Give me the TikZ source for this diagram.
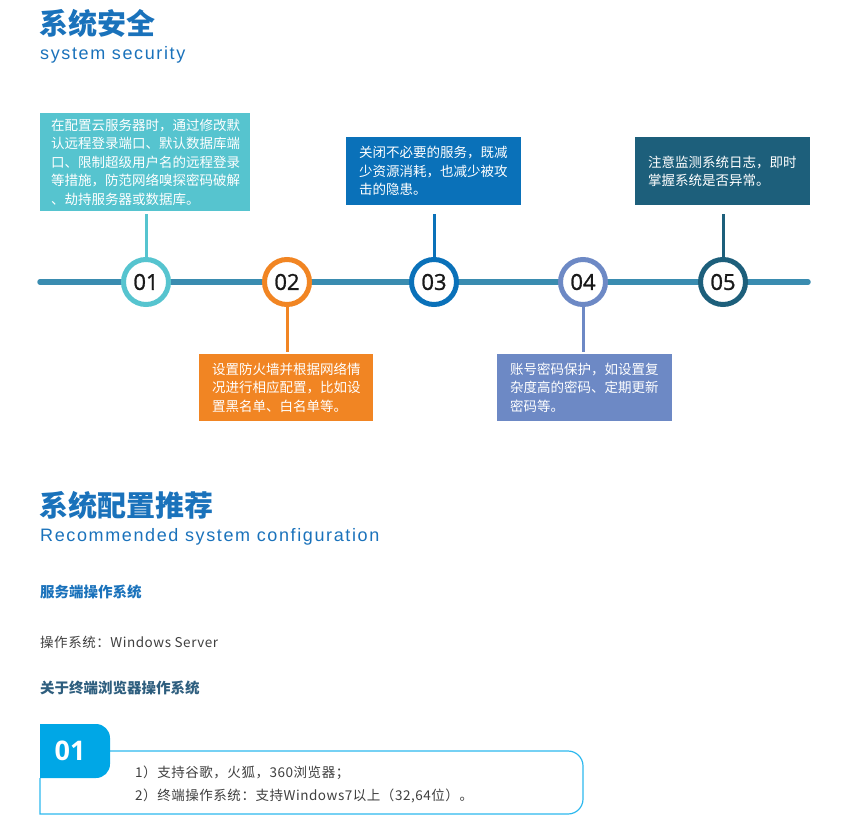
\documentclass[tikz,border=0pt]{standalone}
\usepackage{fontspec}
\setmainfont{Liberation Sans}
\newfontfamily\cjk{Noto Sans CJK SC}
\newfontfamily\cjkbody[LetterSpace=4]{Noto Sans CJK SC}
\newfontfamily\en[LetterSpace=9]{Liberation Sans}
\newfontfamily\num[FakeBold=1.2]{Open Sans}
\newfontfamily\numb{Open Sans}
\definecolor{ttl}{HTML}{1A72BB}
\definecolor{cteal}{HTML}{56C4CF}
\definecolor{corange}{HTML}{F18523}
\definecolor{cblue}{HTML}{0A71B9}
\definecolor{cperi}{HTML}{6D89C5}
\definecolor{cdark}{HTML}{1D5F7B}
\definecolor{tline}{HTML}{3A8CB0}
\definecolor{badge}{HTML}{00A7E6}
\definecolor{outl}{HTML}{2DB8EE}
\definecolor{subh}{HTML}{2E5E7E}
\definecolor{bodytxt}{HTML}{3F3F3F}
\tikzset{
  infobox/.style={rectangle, inner sep=0pt, anchor=north west, text=white, align=left,
    font=\cjk\fontsize{13.5}{18.5}\selectfont},
  stepcirc/.style={circle, draw=#1, fill=white, line width=5pt, minimum size=45pt, inner sep=0pt,
    font=\num\fontsize{22}{22}\selectfont, text=black!90},
  conn/.style={draw=#1, line width=3pt},
  bigtitle/.style={anchor=west, inner sep=0pt, text=ttl, font=\cjk\bfseries\fontsize{29}{29}\selectfont},
  subtitle/.style={anchor=west, inner sep=0pt, text=ttl, font=\en\fontsize{18}{18}\selectfont},
  heading/.style={anchor=west, inner sep=0pt, font=\cjk\bfseries\fontsize{14.5}{14.5}\selectfont},
  plain/.style={anchor=west, inner sep=0pt, text=bodytxt, font=\cjkbody\fontsize{13.5}{13.5}\selectfont}
}
\begin{document}
\begin{tikzpicture}[x=1pt,y=-1pt]
\useasboundingbox (0,0) rectangle (850,828);
% titles
\node[bigtitle] (t1) at (39,23) {系统安全};
\node[subtitle] (t1e) at (40,55) {system security};
% boxes
\node[infobox, fill=cteal, minimum width=210pt, minimum height=98pt, text width=188pt] (b1) at (40,113)
 {在配置云服务器时，通过修改默\\认远程登录端口、默认数据库端\\口、限制超级用户名的远程登录\\等措施，防范网络嗅探密码破解\\、劫持服务器或数据库。};
\node[infobox, fill=corange, minimum width=174pt, minimum height=67pt, text width=148pt] (b2) at (199,354)
 {设置防火墙并根据网络情\\况进行相应配置，比如设\\置黑名单、白名单等。};
\node[infobox, fill=cblue, minimum width=175pt, minimum height=68pt, text width=149pt] (b3) at (346,137)
 {关闭不必要的服务，既减\\少资源消耗，也减少被攻\\击的隐患。};
\node[infobox, fill=cperi, minimum width=175pt, minimum height=67pt, text width=149pt] (b4) at (497,354)
 {账号密码保护，如设置复\\杂度高的密码、定期更新\\密码等。};
\node[infobox, fill=cdark, minimum width=175pt, minimum height=68pt, text width=149pt] (b5) at (635,137)
 {注意监测系统日志，即时\\掌握系统是否异常。};
% timeline
\coordinate (tlA) at (40,282);
\coordinate (tlB) at (808,282);
\draw[tline, line width=5.5pt, line cap=round] (tlA) -- (tlB);
\coordinate (p1) at (146,282);
\coordinate (p2) at (287,282);
\coordinate (p3) at (434,282);
\coordinate (p4) at (583,282);
\coordinate (p5) at (723,282);
\draw[conn=cteal] (p1) -- ([yshift=-3pt]p1 |- b1.south);
\draw[conn=corange] (p2) -- ([yshift=2pt]p2 |- b2.north);
\draw[conn=cblue] (p3) -- ([yshift=-9pt]p3 |- b3.south);
\draw[conn=cperi] (p4) -- ([yshift=2pt]p4 |- b4.north);
\draw[conn=cdark] (p5) -- ([yshift=-9pt]p5 |- b5.south);
\node[stepcirc=cteal] (c1) at (p1) {01};
\node[stepcirc=corange] (c2) at (p2) {02};
\node[stepcirc=cblue] (c3) at (p3) {03};
\node[stepcirc=cperi] (c4) at (p4) {04};
\node[stepcirc=cdark] (c5) at (p5) {05};
% second section
\node[bigtitle] (t2) at (39,505) {系统配置推荐};
\node[subtitle] (t2e) at (40,537) {Recommended system configuration};
\node[heading, text=ttl] (h1) at (40,592) {服务端操作系统};
\node[plain] (os) at (40,642) {操作系统：Windows Server};
\node[heading, text=subh] (h2) at (40,688) {关于终端浏览器操作系统};
% bottom card
\draw[outl, line width=1.2pt] (40,778) -- (40,814) -- (568,814) arc[start angle=90, end angle=0, radius=15] -- (583,766)
  arc[start angle=0, end angle=-90, radius=15] -- (110,751);
\fill[badge] (40,724) -- (96,724) arc[start angle=-90, end angle=0, radius=14] -- (110,764)
  arc[start angle=0, end angle=90, radius=14] -- (40,778) -- cycle;
\node[inner sep=0pt, text=white, font=\numb\bfseries\fontsize{27}{27}\selectfont] (n01) at (70,751) {01};
\node[plain, text=bodytxt] (l1) at (135,773) {1）支持谷歌，火狐，360浏览器；};
\node[plain, text=bodytxt] (l2) at (135,796) {2）终端操作系统：支持Windows7以上（32,64位）。};
\end{tikzpicture}
\end{document}
